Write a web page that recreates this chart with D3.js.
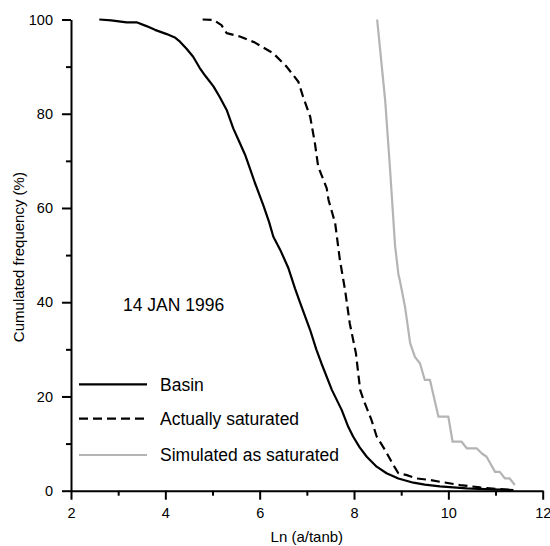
<!DOCTYPE html>
<html>
<head>
<meta charset="utf-8">
<script src="https://cdn.jsdelivr.net/npm/d3@7"></script>
<style>
  html, body { margin: 0; padding: 0; background: #fff; }
  svg { display: block; font-family: "Liberation Sans", Arial, sans-serif; }
</style>
</head>
<body>
<svg id="chart" width="550" height="546"></svg>
<script>
// ---- Data ----
const basinX = [2.60, 2.85, 3.18, 3.39, 3.60, 3.78, 4.03, 4.20, 4.31, 4.45, 4.59, 4.73, 4.85, 5.02, 5.15, 5.30, 5.44, 5.57, 5.69, 5.80, 5.90, 6.08, 6.20, 6.29, 6.45, 6.61, 6.75, 6.86, 7.07, 7.20, 7.31, 7.53, 7.74, 7.88, 7.98, 8.12, 8.27, 8.48, 8.69, 8.94, 9.26, 9.50, 9.82, 10.39, 10.90, 11.38];
const basinY = [100, 99.8, 99.4, 99.4, 98.6, 97.8, 96.9, 96.2, 95.3, 93.8, 92.1, 89.7, 88.0, 85.8, 83.6, 80.8, 76.9, 74.0, 71.3, 68.2, 65.3, 60.5, 57.0, 53.9, 50.8, 47.2, 42.9, 39.8, 34.1, 30.0, 27.0, 21.4, 17.1, 13.5, 11.5, 9.2, 7.2, 5.1, 3.7, 2.6, 1.7, 1.3, 0.9, 0.5, 0.3, 0.15];

const satX = [4.79, 5.02, 5.19, 5.30, 5.58, 5.90, 6.29, 6.57, 6.82, 6.92, 7.07, 7.17, 7.24, 7.35, 7.42, 7.46, 7.60, 7.70, 7.81, 7.91, 8.04, 8.13, 8.20, 8.37, 8.48, 8.66, 8.83, 8.94, 9.12, 9.33, 9.60, 9.82, 10.25, 10.67, 10.88, 11.30];
const satY = [100, 99.9, 98.8, 97.1, 96.4, 95.1, 92.8, 90.0, 86.8, 83.6, 79.4, 73.8, 68.8, 66.0, 64.2, 61.7, 56.8, 49.0, 42.6, 35.5, 29.2, 21.4, 19.3, 15.0, 11.5, 8.6, 5.5, 3.7, 3.3, 2.6, 2.3, 1.9, 1.2, 0.7, 0.5, 0.15];

const simX = [8.49, 8.66, 8.76, 8.87, 8.94, 8.97, 9.08, 9.19, 9.29, 9.40, 9.50, 9.61, 9.79, 10.00, 10.09, 10.28, 10.39, 10.60, 10.71, 10.81, 10.99, 11.09, 11.20, 11.30, 11.41];
const simY = [100, 82.9, 68.8, 52.0, 46.0, 44.7, 39.1, 31.3, 28.4, 27.0, 23.5, 23.5, 15.7, 15.7, 10.4, 10.4, 9.0, 9.0, 7.9, 7.2, 4.0, 4.0, 2.6, 2.6, 1.2];

const xMajorTicks = [2, 4, 6, 8, 10, 12];
const xMinorTicks = [3, 5, 7, 9, 11];
const yMajorTicks = [0, 20, 40, 60, 80, 100];
const yMinorTicks = [10, 30, 50, 70, 90];

const seriesNames = ["Basin", "Actually saturated", "Simulated as saturated"];
const annotation = "14 JAN 1996";
const xTitle = "Ln (a/tanb)";
const yTitle = "Cumulated frequency (%)";

// ---- Layout ----
const W = 550, H = 546;
const margin = { left: 71, right: 7.3, top: 19.5, bottom: 55.3 };
const svg = d3.select("#chart");

const x = d3.scaleLinear().domain([2, 12]).range([margin.left, W - margin.right]);
const y = d3.scaleLinear().domain([0, 100]).range([H - margin.bottom, margin.top]);

const series = [
  { name: seriesNames[0], xs: basinX, ys: basinY, color: "#000", width: 2.2, dash: null },
  { name: seriesNames[1], xs: satX, ys: satY, color: "#000", width: 2.2, dash: "9,5" },
  { name: seriesNames[2], xs: simX, ys: simY, color: "#b4b4b4", width: 2.2, dash: null }
];

const line = d3.line().x(d => x(d[0])).y(d => y(d[1]));

// Curves
series.forEach(s => {
  const pts = s.xs.map((v, i) => [v, s.ys[i]]);
  svg.append("path")
    .attr("d", line(pts))
    .attr("fill", "none")
    .attr("stroke", s.color)
    .attr("stroke-width", s.width)
    .attr("stroke-dasharray", s.dash)
    .attr("stroke-linejoin", "round");
});

// Axes
function styleAxis(g) {
  g.selectAll(".domain").attr("stroke", "#000").attr("stroke-width", 2);
  g.selectAll(".tick line").attr("stroke", "#000").attr("stroke-width", 2);
  g.selectAll(".tick text").attr("fill", "#000").style("font-size", "14.5px");
}

const xAxisMinor = svg.append("g")
  .attr("transform", `translate(0,${y(0)})`)
  .call(d3.axisBottom(x).tickValues(xMinorTicks).tickSize(5).tickFormat(""));
xAxisMinor.select(".domain").remove();
xAxisMinor.selectAll(".tick line").attr("stroke", "#000").attr("stroke-width", 2);

const yAxisMinor = svg.append("g")
  .attr("transform", `translate(${x(2)},0)`)
  .call(d3.axisLeft(y).tickValues(yMinorTicks).tickSize(5).tickFormat(""));
yAxisMinor.select(".domain").remove();
yAxisMinor.selectAll(".tick line").attr("stroke", "#000").attr("stroke-width", 2);

const xAxis = svg.append("g")
  .attr("transform", `translate(0,${y(0)})`)
  .call(d3.axisBottom(x).tickValues(xMajorTicks).tickSize(9).tickSizeOuter(0).tickPadding(8).tickFormat(d3.format("d")));
styleAxis(xAxis);

const yAxis = svg.append("g")
  .attr("transform", `translate(${x(2)},0)`)
  .call(d3.axisLeft(y).tickValues(yMajorTicks).tickSize(9).tickSizeOuter(0).tickPadding(9).tickFormat(d3.format("d")));
styleAxis(yAxis);

// Axis titles
svg.append("text")
  .attr("x", (x(2) + x(12)) / 2 + 0)
  .attr("y", 542)
  .attr("text-anchor", "middle")
  .style("font-size", "15px")
  .text(xTitle);

svg.append("text")
  .attr("transform", `translate(24,${(y(0) + y(100)) / 2 + 2}) rotate(-90)`)
  .attr("text-anchor", "middle")
  .style("font-size", "15px")
  .text(yTitle);

// Annotation
svg.append("text")
  .attr("x", 123)
  .attr("y", 311)
  .style("font-size", "17.5px")
  .text(annotation);

// Legend
const legendY = [384.3, 418.7, 455];
series.forEach((s, i) => {
  svg.append("line")
    .attr("x1", 79).attr("x2", 147)
    .attr("y1", legendY[i]).attr("y2", legendY[i])
    .attr("stroke", s.color)
    .attr("stroke-width", s.width)
    .attr("stroke-dasharray", s.dash);
  svg.append("text")
    .attr("x", 160)
    .attr("y", legendY[i] + 6.3)
    .style("font-size", "17.5px")
    .text(s.name);
});
</script>
</body>
</html>
